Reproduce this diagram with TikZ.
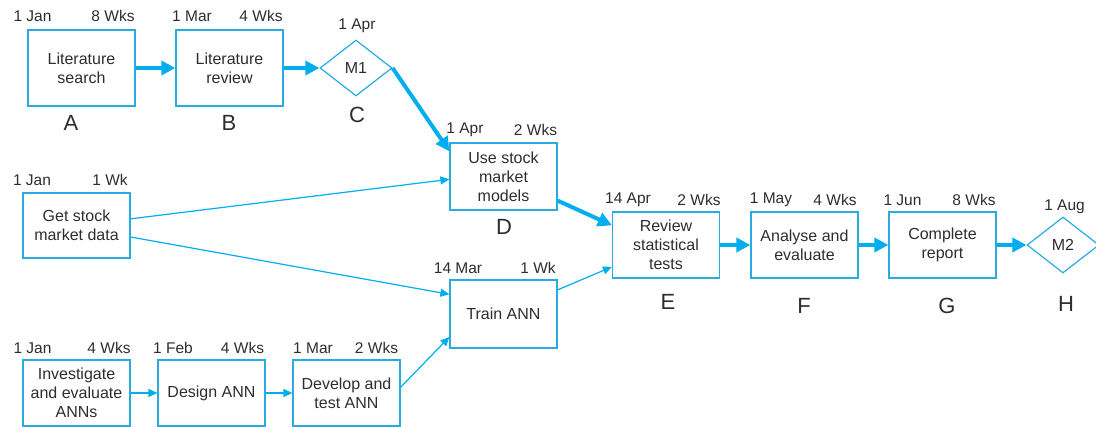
\documentclass[tikz,border=0pt]{standalone}
\usepackage{fontspec}
\setmainfont{Liberation Sans}
\usetikzlibrary{shapes.geometric,arrows.meta}
\definecolor{netblue}{RGB}{0,174,239}
\definecolor{boxblue}{RGB}{41,171,226}
\definecolor{inkgrey}{RGB}{45,45,45}
\begin{document}
\begin{tikzpicture}[x=1pt,y=-1pt,
	task/.style={draw=boxblue, line width=1.2pt, minimum width=107pt, inner sep=2pt,
		align=center, text=inkgrey, font=\fontsize{16}{19}\selectfont},
	mile/.style={draw=boxblue, line width=1.2pt, diamond, minimum width=72pt,
		minimum height=56pt, inner sep=0pt, text=inkgrey, font=\fontsize{16}{19}\selectfont},
	note/.style={text=inkgrey, inner sep=0pt, font=\fontsize{15.5}{18}\selectfont},
	tag/.style={text=inkgrey, inner sep=0pt, font=\fontsize{22}{24}\selectfont},
	crit/.style={draw=netblue, line width=4pt, -{Triangle[length=14pt,width=14pt]}},
	link/.style={draw=netblue, line width=1.2pt, -{Triangle[length=9pt,width=8pt]}}]
	
	\useasboundingbox (0,0) rectangle (1096,427);
	
	% top row
	\node[task, minimum height=76pt] (A) at (81.5,68) {Literature\\search};
	\node[task, minimum height=76pt] (B) at (229.5,68) {Literature\\review};
	\node[mile] (C) at (356,68) {M1};
	\node[task, minimum height=67pt] (D) at (503.5,176.5) {Use stock\\market\\models};
	
	% data and ANN rows
	\node[task, minimum height=65pt] (get) at (76.5,225.5) {Get stock\\market data};
	\node[task, minimum height=68pt] (train) at (503.5,314) {Train ANN};
	\node[task, minimum height=66pt] (inv) at (76.5,393) {Investigate\\and evaluate\\ANNs};
	\node[task, minimum height=66pt] (des) at (211.5,393) {Design ANN};
	\node[task, minimum height=66pt] (dev) at (346.5,393) {Develop and\\test ANN};
	
	% final row
	\node[task, minimum height=66pt] (E) at (666,245) {Review\\statistical\\tests};
	\node[task, minimum height=66pt] (F) at (804.5,245) {Analyse and\\evaluate};
	\node[task, minimum height=66pt] (G) at (942.5,245) {Complete\\report};
	\node[mile] (H) at (1063,245) {M2};
	
	% start dates and durations
	\node[note] (dA) at (32.5,16) {1 Jan};
	\node[note] (wA) at (113,16) {8 Wks};
	\node[note] (dB) at (192,16) {1 Mar};
	\node[note] (wB) at (261,16) {4 Wks};
	\node[note] (dC) at (357,26) {1 Apr};
	\node[note] (dD) at (465,130) {1 Apr};
	\node[note] (wD) at (535.5,130) {2 Wks};
	\node[note] (dget) at (32,180) {1 Jan};
	\node[note] (wget) at (110,180) {1 Wk};
	\node[note] (dtrain) at (458,268) {14 Mar};
	\node[note] (wtrain) at (538,268) {1 Wk};
	\node[note] (dinv) at (32.5,348) {1 Jan};
	\node[note] (winv) at (109,348) {4 Wks};
	\node[note] (ddes) at (173,348) {1 Feb};
	\node[note] (wdes) at (242.5,348) {4 Wks};
	\node[note] (ddev) at (313,348) {1 Mar};
	\node[note] (wdev) at (376.5,348) {2 Wks};
	\node[note] (dE) at (628,200) {14 Apr};
	\node[note] (wE) at (699,200) {2 Wks};
	\node[note] (dF) at (771,200) {1 May};
	\node[note] (wF) at (835,200) {4 Wks};
	\node[note] (dG) at (902.5,200) {1 Jun};
	\node[note] (wG) at (974,200) {8 Wks};
	\node[note] (dH) at (1064.5,207) {1 Aug};
	
	% activity letters
	\node[tag] (lA) at (71,123) {A};
	\node[tag] (lB) at (229,123) {B};
	\node[tag] (lC) at (357,115) {C};
	\node[tag] (lD) at (504,227) {D};
	\node[tag] (lE) at (668,302) {E};
	\node[tag] (lF) at (804,306) {F};
	\node[tag] (lG) at (947,306) {G};
	\node[tag] (lH) at (1066,304) {H};
	
	% critical path
	\draw[crit] (A) -- (B);
	\draw[crit] (B) -- (C.west);
	\draw[crit] (C.east) -- (D.155);
	\draw[crit] (D.-24) -- (E.160);
	\draw[crit] (E) -- (F);
	\draw[crit] (F) -- (G);
	\draw[crit] (G) -- (H.west);
	
	% other links
	\draw[link] (get.7) -- (D.183);
	\draw[link] (get.-12) -- (train.160);
	\draw[link] (train.24) -- (E.202);
	\draw[link] (inv) -- (des);
	\draw[link] (des) -- (dev);
	\draw[link] (dev.6) -- (train.203);
	
\end{tikzpicture}
\end{document}
